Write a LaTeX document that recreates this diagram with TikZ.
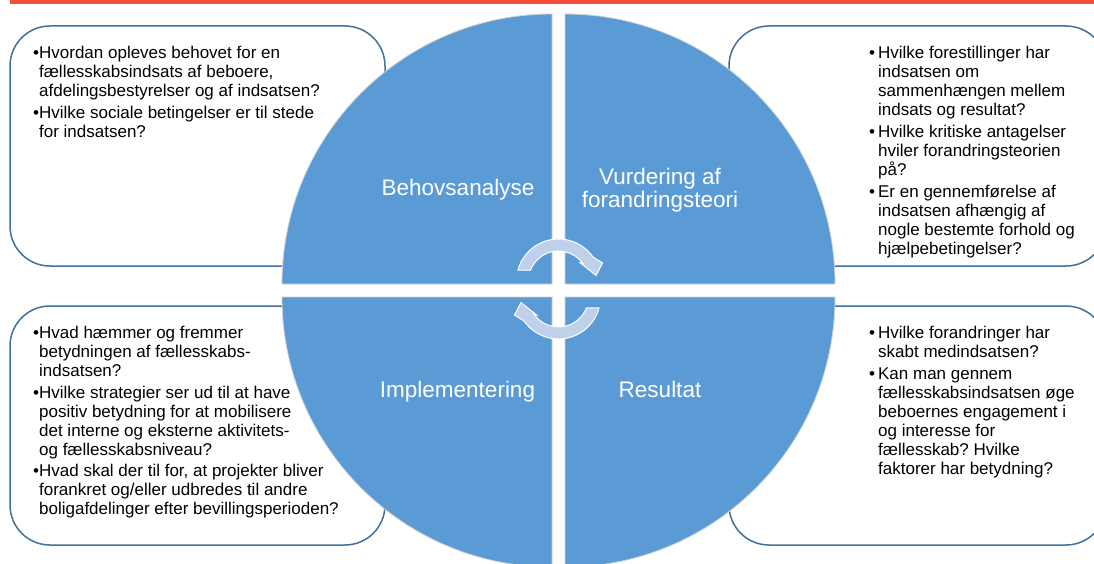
\documentclass[tikz,border=0pt]{standalone}
\usepackage{fontspec}
\setmainfont{Liberation Sans}
\frenchspacing
\definecolor{quadblue}{HTML}{5B9BD5}
\definecolor{boxline}{HTML}{41719C}
\definecolor{cycblue}{HTML}{BED0EA}
\definecolor{topred}{HTML}{F44E3B}
% bullets with hanging indent
\newcommand{\lb}{\textbullet}
\newcommand{\lh}{\hphantom{\textbullet}}
\newcommand{\rb}{\textbullet\kern3pt}
\newcommand{\rh}{\hphantom{\textbullet\kern3pt}}

\begin{document}
\begin{tikzpicture}[x=1pt,y=1pt,
    box/.style={draw=boxline,line width=1.5pt,fill=white,rounded corners=40pt,minimum width=375pt,minimum height=240pt,inner sep=0pt},
    quad/.style={fill=quadblue,draw=black!18,line width=0.8pt},
    cyc/.style={fill=cycblue,draw=white,line width=1pt},
    qlabel/.style={text=white,font=\fontsize{22.5}{23}\selectfont,inner sep=0pt},
    qtext/.style={align=left,anchor=north west,font=\fontsize{17}{19}\selectfont,inner sep=0pt}]
    \clip (0,0) rectangle (1094,563);
    \fill[white] (0,0) rectangle (1094,563);
    \fill[topred] (10,559) rectangle (1094,563);
    % Boxes
    \draw (197.5,417) node[box] (TL) {};
    \draw (197.5,137.5) node[box,minimum height=239pt] (BL) {};
    \draw (917.5,417) node[box,minimum width=377pt] (TR) {};
    \draw (917.5,137.5) node[box,minimum width=377pt,minimum height=239pt] (BR) {};
    % Circle
    \filldraw[quad] (552,279) -- ++(-270,0) arc[start angle=180,end angle=90,radius=270] -- cycle;
    \filldraw[quad] (565,279) -- ++(0,270) arc[start angle=90,end angle=0,radius=270] -- cycle;
    \filldraw[quad] (552,266) -- ++(-270,0) arc[start angle=180,end angle=270,radius=270] -- cycle;
    \filldraw[quad] (565,266) -- ++(270,0) arc[start angle=0,end angle=-90,radius=270] -- cycle;
    % Cycle arrows
    \begin{scope}[shift={(558.5,282)}]
        \filldraw[cyc] (165:42) arc[start angle=165,end angle=35,radius=42] -- (44,18) -- (37.5,5.5) -- (22,18) -- (35:30) arc[start angle=35,end angle=158.5,radius=30] -- cycle;
    \end{scope}
    \begin{scope}[shift={(558.5,266)},rotate=180]
        \filldraw[cyc] (165:42) arc[start angle=165,end angle=35,radius=42] -- (44,18) -- (37.5,5.5) -- (22,18) -- (35:30) arc[start angle=35,end angle=158.5,radius=30] -- cycle;
    \end{scope}
    % Labels
    \node[qlabel,anchor=base] (behov) at (458,367) {Behovsanalyse};
    \node[qlabel,align=center] (vurd) at (660,373) {Vurdering af\\forandringsteori};
    \node[qlabel,anchor=base] (impl) at (457.5,166) {Implementering};
    \node[qlabel,anchor=base] (res) at (660,166) {Resultat};
    % Questions
    \node[qtext] (TLtext) at (33,517.4) {\lb Hvordan opleves behovet for en\\
        \lh fællesskabsindsats af beboere,\\
        \lh afdelingsbestyrelser og af indsatsen?\\[3pt]
        \lb Hvilke sociale betingelser er til stede\\
        \lh for indsatsen?};
    \node[qtext] (TRtext) at (869,517.4) {\rb Hvilke forestillinger har\\
        \rh indsatsen om\\
        \rh sammenhængen mellem\\
        \rh indsats og resultat?\\[3pt]
        \rb Hvilke kritiske antagelser\\
        \rh hviler forandringsteorien\\
        \rh på?\\[3.5pt]
        \rb Er en gennemførelse af\\
        \rh indsatsen afhængig af\\
        \rh nogle bestemte forhold og\\
        \rh hjælpebetingelser?};
    \node[qtext] (BLtext) at (33,237.4) {\lb Hvad hæmmer og fremmer\\
        \lh betydningen af fællesskabs-\\
        \lh indsatsen?\\[3pt]
        \lb Hvilke strategier ser ud til at have\\
        \lh positiv betydning for at mobilisere\\
        \lh det interne og eksterne aktivitets-\\
        \lh og fællesskabsniveau?\\[2pt]
        \lb Hvad skal der til for, at projekter bliver\\
        \lh forankret og/eller udbredes til andre\\
        \lh boligafdelinger efter bevillingsperioden?};
    \node[qtext] (BRtext) at (869,237.4) {\rb Hvilke forandringer har\\
        \rh skabt medindsatsen?\\[3pt]
        \rb Kan man gennem\\
        \rh fællesskabsindsatsen øge\\
        \rh beboernes engagement i\\
        \rh og interesse for\\
        \rh fællesskab? Hvilke\\
        \rh faktorer har betydning?};
\end{tikzpicture}
\end{document}
